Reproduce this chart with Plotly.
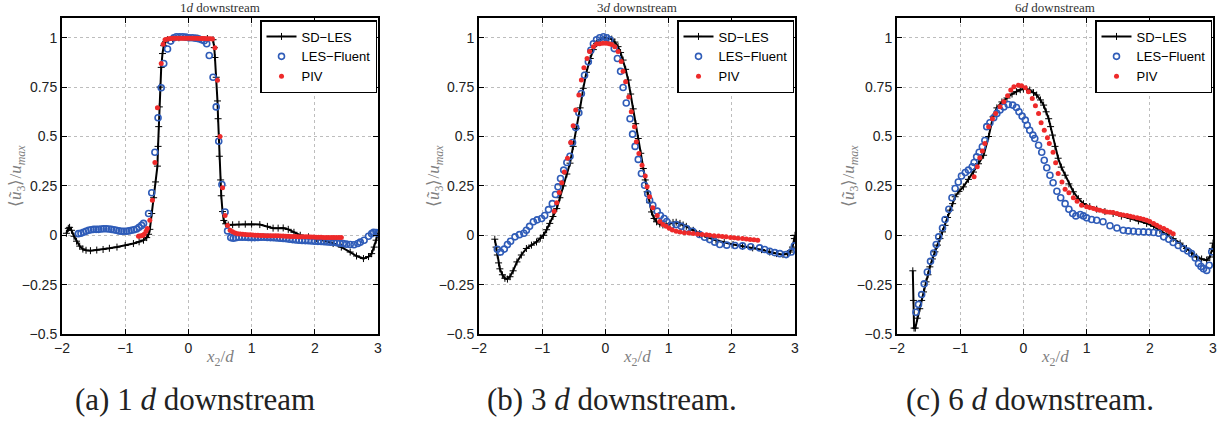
import plotly.graph_objects as go

W, H = 1232, 422

# ---------------- data ----------------
titles = ["1<i>d</i> downstream", "3<i>d</i> downstream", "6<i>d</i> downstream"]
captions = ["(a) 1 <i>d</i> downstream", "(b) 3 <i>d</i> downstream.", "(c) 6 <i>d</i> downstream."]
series_names = ["SD−LES", "LES−Fluent", "PIV"]
x_ticks = [-2, -1, 0, 1, 2, 3]
y_ticks = [-0.5, -0.25, 0, 0.25, 0.5, 0.75, 1]
y_tick_labels = ["−0.5", "−0.25", "0", "0.25", "0.5", "0.75", "1"]

# Panel (a) 1d downstream
sd1_x = [-1.93, -1.90, -1.88, -1.85, -1.81, -1.77, -1.72, -1.67, -1.62, -1.55, -1.45, -1.35, -1.25,
         -1.13, -1.00, -0.87, -0.78, -0.71, -0.66, -0.63, -0.61, -0.58, -0.55, -0.52, -0.49, -0.48,
         -0.47, -0.46, -0.45, -0.43, -0.41, -0.39, -0.36, -0.33, -0.25, -0.15, 0.0, 0.15, 0.30, 0.39,
         0.41, 0.42, 0.44, 0.46, 0.47, 0.48, 0.49, 0.51, 0.52, 0.54, 0.56, 0.59, 0.63, 0.70, 0.80,
         0.90, 1.00, 1.13, 1.25, 1.34, 1.42, 1.50, 1.58, 1.67, 1.77, 1.90, 2.03, 2.16, 2.29, 2.42,
         2.56, 2.66, 2.77, 2.85, 2.90, 2.94, 2.97, 3.00]
sd1_y = [0.01, 0.035, 0.04, 0.025, -0.005, -0.03, -0.055, -0.07, -0.076, -0.078, -0.075, -0.072, -0.066,
         -0.06, -0.052, -0.042, -0.033, -0.025, -0.012, 0.005, 0.03, 0.11, 0.19, 0.27, 0.35, 0.45,
         0.55, 0.65, 0.75, 0.85, 0.92, 0.96, 0.98, 0.99, 0.995, 1.0, 1.0, 0.998, 0.996, 0.99,
         0.95, 0.90, 0.80, 0.68, 0.59, 0.50, 0.40, 0.28, 0.20, 0.12, 0.075, 0.058, 0.052, 0.053, 0.055,
         0.056, 0.056, 0.054, 0.045, 0.036, 0.036, 0.037, 0.03, 0.015, 0.0, -0.008, -0.017, -0.028, -0.042, -0.06,
         -0.085, -0.105, -0.118, -0.108, -0.093, -0.06, -0.025, 0.01]
les1_x = [-1.74, -1.70, -1.66, -1.62, -1.58, -1.54, -1.50, -1.46, -1.42, -1.38, -1.34, -1.30, -1.26,
          -1.22, -1.18, -1.14, -1.10, -1.06, -1.02, -0.98, -0.94, -0.90, -0.86, -0.82, -0.78, -0.74,
          -0.71, -0.63, -0.58, -0.53, -0.48, -0.43, -0.39, -0.33, -0.28, -0.23, -0.19, -0.14, -0.09,
          -0.04, 0.01, 0.06, 0.11, 0.16, 0.21, 0.25, 0.29, 0.33, 0.39, 0.44, 0.48, 0.53, 0.58, 0.62,
          0.67, 0.71, 0.75, 0.80, 0.85, 0.90, 0.95, 1.00, 1.05, 1.10, 1.15, 1.20, 1.25, 1.30, 1.35,
          1.40, 1.45, 1.50, 1.55, 1.60, 1.65, 1.70, 1.75, 1.80, 1.85, 1.90, 1.95, 2.00, 2.05, 2.10,
          2.15, 2.20, 2.25, 2.30, 2.35, 2.40, 2.45, 2.50, 2.56, 2.62, 2.68, 2.72, 2.78, 2.85, 2.90,
          2.93, 2.97, 3.00]
les1_y = [0.008, 0.01, 0.015, 0.02, 0.025, 0.028, 0.03, 0.03, 0.03, 0.032, 0.033, 0.033, 0.032,
          0.03, 0.028, 0.025, 0.022, 0.02, 0.02, 0.02, 0.022, 0.025, 0.028, 0.032, 0.04, 0.05,
          0.06, 0.11, 0.215, 0.42, 0.595, 0.747, 0.87, 0.943, 0.983, 1.0, 1.005, 1.005, 1.005,
          1.003, 1.0, 1.0, 0.998, 0.995, 0.99, 0.985, 0.97, 0.91, 0.80, 0.65, 0.476, 0.257, 0.118, 0.022,
          -0.012, -0.015, -0.013, -0.01, -0.01, -0.01, -0.011, -0.012, -0.012, -0.011, -0.01, -0.01, -0.011, -0.012, -0.013,
          -0.014, -0.015, -0.016, -0.018, -0.02, -0.022, -0.024, -0.025, -0.026, -0.027, -0.028, -0.029, -0.03, -0.031, -0.032,
          -0.033, -0.034, -0.035, -0.036, -0.038, -0.04, -0.042, -0.045, -0.047, -0.048, -0.042, -0.035, -0.025, -0.005, 0.008,
          0.015, 0.014, 0.01]
piv1_x = [-0.79, -0.77, -0.74, -0.72, -0.70, -0.67, -0.65, -0.61, -0.57, -0.53, -0.49, -0.43, -0.40,
          -0.37, -0.34, -0.31, -0.28, -0.25, -0.22, -0.19, -0.16, -0.13, -0.10, -0.07, -0.04, -0.01,
          0.02, 0.05, 0.08, 0.11, 0.14, 0.17, 0.20, 0.23, 0.26, 0.29, 0.32, 0.35, 0.38, 0.42, 0.46,
          0.50, 0.54, 0.58, 0.62, 0.66, 0.70, 0.74, 0.78, 0.82, 0.86, 0.90, 0.94, 0.98, 1.02, 1.06,
          1.10, 1.14, 1.18, 1.22, 1.26, 1.30, 1.34, 1.38, 1.42, 1.46, 1.50, 1.54, 1.58, 1.62, 1.66,
          1.70, 1.74, 1.78, 1.82, 1.86, 1.90, 1.94, 1.98, 2.02, 2.06, 2.10, 2.14, 2.18, 2.22, 2.26,
          2.30, 2.34, 2.38, 2.42]
piv1_y = [-0.005, -0.004, -0.003, 0.0, 0.005, 0.02, 0.034, 0.076, 0.177, 0.368, 0.646, 0.87, 0.967,
          0.99, 0.993, 0.995, 0.996, 0.997, 0.998, 0.998, 0.998, 0.998, 0.998, 0.998, 0.998, 0.998,
          0.997, 0.997, 0.997, 0.997, 0.997, 0.996, 0.996, 0.996, 0.996, 0.995, 0.995, 0.995, 0.994, 0.95, 0.785,
          0.50, 0.24, 0.10, 0.05, 0.025, 0.018, 0.012, 0.008, 0.006, 0.005, 0.004, 0.003, 0.002, 0.001, 0.0,
          0.0, -0.001, -0.001, -0.002, -0.002, -0.002, -0.003, -0.003, -0.003, -0.004, -0.004, -0.005, -0.005, -0.006, -0.006,
          -0.006, -0.007, -0.007, -0.008, -0.008, -0.008, -0.009, -0.009, -0.01, -0.01, -0.01, -0.011, -0.011, -0.011, -0.012,
          -0.012, -0.012, -0.012, -0.012]

# Panel (b) 3d downstream
sd2_x = [-1.75, -1.73, -1.71, -1.69, -1.67, -1.63, -1.59, -1.55, -1.51, -1.46, -1.40, -1.33, -1.25,
         -1.17, -1.09, -1.03, -0.98, -0.93, -0.88, -0.83, -0.77, -0.72, -0.67, -0.61, -0.56, -0.51,
         -0.46, -0.40, -0.35, -0.30, -0.24, -0.19, -0.14, -0.08, -0.01, 0.05, 0.10, 0.15, 0.20, 0.24,
         0.28, 0.32, 0.36, 0.40, 0.44, 0.48, 0.52, 0.56, 0.60, 0.63, 0.66, 0.70, 0.73, 0.77, 0.81,
         0.86, 0.91, 0.96, 1.02, 1.07, 1.12, 1.18, 1.23, 1.28, 1.39, 1.49, 1.62, 1.75, 1.88, 2.02,
         2.17, 2.33, 2.47, 2.60, 2.71, 2.81, 2.88, 2.92, 2.96, 2.99, 3.00]
sd2_y = [-0.02, -0.06, -0.10, -0.14, -0.17, -0.20, -0.218, -0.222, -0.21, -0.18, -0.135, -0.10, -0.067,
         -0.05, -0.034, -0.015, 0.0, 0.028, 0.06, 0.095, 0.135, 0.19, 0.25, 0.31, 0.365, 0.45,
         0.54, 0.645, 0.744, 0.825, 0.895, 0.94, 0.97, 0.99, 1.0, 0.998, 0.993, 0.978, 0.955, 0.925,
         0.887, 0.84, 0.786, 0.715, 0.64, 0.565, 0.49, 0.415, 0.338, 0.28, 0.22, 0.165, 0.118, 0.085, 0.068,
         0.057, 0.052, 0.055, 0.06, 0.065, 0.066, 0.06, 0.052, 0.045, 0.025, 0.008, -0.01, -0.025, -0.037, -0.047,
         -0.056, -0.064, -0.073, -0.085, -0.093, -0.098, -0.093, -0.085, -0.06, -0.017, 0.0]
les2_x = [-1.71, -1.66, -1.60, -1.55, -1.50, -1.43, -1.36, -1.29, -1.25, -1.20, -1.14, -1.08, -1.01,
          -0.96, -0.90, -0.84, -0.79, -0.75, -0.71, -0.66, -0.61, -0.56, -0.52, -0.47, -0.42, -0.38,
          -0.33, -0.27, -0.23, -0.19, -0.14, -0.09, -0.03, 0.02, 0.07, 0.14, 0.19, 0.24, 0.28, 0.33,
          0.39, 0.43, 0.47, 0.52, 0.57, 0.62, 0.67, 0.70, 0.75, 0.82, 0.87, 0.93, 0.97, 1.04, 1.12,
          1.20, 1.28, 1.38, 1.49, 1.57, 1.65, 1.73, 1.81, 1.92, 2.05, 2.17, 2.30, 2.44, 2.52, 2.60,
          2.68, 2.76, 2.86, 2.94, 2.99]
les2_y = [-0.071, -0.085, -0.07, -0.047, -0.03, -0.008, 0.003, 0.01, 0.025, 0.045, 0.068, 0.078, 0.085,
          0.10, 0.13, 0.16, 0.206, 0.245, 0.287, 0.33, 0.368, 0.40, 0.47, 0.545, 0.62, 0.718,
          0.81, 0.878, 0.937, 0.97, 0.99, 1.0, 1.005, 1.0, 0.99, 0.945, 0.895, 0.83, 0.748, 0.67,
          0.59, 0.512, 0.45, 0.384, 0.313, 0.253, 0.21, 0.177, 0.152, 0.122, 0.10, 0.085, 0.07, 0.05, 0.054,
          0.045, 0.034, 0.02, 0.004, -0.01, -0.022, -0.035, -0.047, -0.05, -0.052, -0.054, -0.058, -0.064, -0.072, -0.081,
          -0.088, -0.093, -0.098, -0.085, -0.054]
piv2_x = [-0.81, -0.77, -0.73, -0.69, -0.65, -0.60, -0.55, -0.51, -0.47, -0.42, -0.38, -0.34, -0.29,
          -0.25, -0.19, -0.14, -0.09, -0.04, 0.01, 0.06, 0.10, 0.15, 0.20, 0.25, 0.28, 0.32, 0.37,
          0.41, 0.46, 0.49, 0.53, 0.58, 0.63, 0.66, 0.70, 0.75, 0.82, 0.86, 0.91, 0.96, 1.01, 1.06,
          1.12, 1.18, 1.25, 1.32, 1.39, 1.46, 1.53, 1.60, 1.65, 1.72, 1.79, 1.85, 1.91, 1.98, 2.04,
          2.10, 2.17, 2.23, 2.29, 2.35, 2.41]
piv2_y = [0.122, 0.164, 0.216, 0.266, 0.32, 0.39, 0.47, 0.554, 0.634, 0.71, 0.786, 0.848, 0.895,
          0.93, 0.955, 0.968, 0.97, 0.972, 0.972, 0.97, 0.966, 0.955, 0.93, 0.88, 0.83, 0.777, 0.70,
          0.625, 0.55, 0.473, 0.414, 0.355, 0.30, 0.245, 0.195, 0.139, 0.10, 0.07, 0.055, 0.045, 0.035, 0.027,
          0.02, 0.016, 0.013, 0.011, 0.009, 0.006, 0.004, 0.002, 0.0, -0.002, -0.004, -0.006, -0.008, -0.011, -0.013,
          -0.015, -0.017, -0.019, -0.021, -0.023, -0.025]

# Panel (c) 6d downstream
sd3_x = [-1.75, -1.74, -1.73, -1.71, -1.68, -1.64, -1.61, -1.58, -1.54, -1.51, -1.48, -1.44, -1.40,
         -1.36, -1.32, -1.28, -1.24, -1.20, -1.16, -1.12, -1.08, -1.02, -0.95, -0.87, -0.79, -0.71,
         -0.63, -0.55, -0.48, -0.42, -0.34, -0.26, -0.18, -0.11, -0.05, 0.0, 0.05, 0.10, 0.16, 0.21,
         0.27, 0.32, 0.36, 0.40, 0.43, 0.46, 0.50, 0.55, 0.60, 0.66, 0.72, 0.79, 0.87, 0.95, 1.05,
         1.16, 1.29, 1.42, 1.55, 1.69, 1.82, 1.95, 2.06, 2.16, 2.27, 2.37, 2.48, 2.58, 2.66, 2.74,
         2.82, 2.90, 2.95, 2.99, 3.00]
sd3_y = [-0.18, -0.33, -0.47, -0.47, -0.42, -0.372, -0.33, -0.287, -0.236, -0.20, -0.16, -0.12, -0.084,
         -0.05, -0.017, 0.017, 0.05, 0.09, 0.127, 0.16, 0.195, 0.222, 0.245, 0.283, 0.32, 0.362,
         0.405, 0.50, 0.60, 0.645, 0.675, 0.695, 0.715, 0.727, 0.737, 0.74, 0.74, 0.735, 0.722, 0.71,
         0.685, 0.659, 0.625, 0.59, 0.55, 0.507, 0.45, 0.39, 0.345, 0.304, 0.26, 0.22, 0.185, 0.16, 0.145,
         0.132, 0.12, 0.11, 0.097, 0.085, 0.073, 0.06, 0.045, 0.025, 0.005, -0.017, -0.04, -0.067, -0.09, -0.11,
         -0.12, -0.127, -0.11, -0.067, -0.04]
les3_x = [-1.70, -1.66, -1.61, -1.57, -1.52, -1.47, -1.42, -1.38, -1.34, -1.28, -1.24, -1.18, -1.13,
          -1.08, -1.03, -0.98, -0.92, -0.87, -0.81, -0.78, -0.74, -0.70, -0.65, -0.61, -0.58, -0.53,
          -0.47, -0.42, -0.37, -0.31, -0.24, -0.17, -0.11, -0.07, -0.02, 0.03, 0.06, 0.10, 0.15, 0.18,
          0.24, 0.29, 0.33, 0.37, 0.42, 0.47, 0.53, 0.59, 0.66, 0.72, 0.78, 0.83, 0.90, 0.95, 1.00,
          1.08, 1.16, 1.26, 1.37, 1.48, 1.58, 1.66, 1.74, 1.82, 1.90, 1.98, 2.06, 2.14, 2.22, 2.30,
          2.37, 2.45, 2.53, 2.60, 2.66, 2.72, 2.77, 2.81, 2.85, 2.90, 2.94, 2.98]
les3_y = [-0.39, -0.35, -0.30, -0.246, -0.186, -0.132, -0.09, -0.047, -0.008, 0.037, 0.08, 0.132, 0.19,
          0.237, 0.27, 0.30, 0.318, 0.33, 0.347, 0.368, 0.397, 0.42, 0.448, 0.48, 0.55, 0.57,
          0.595, 0.617, 0.634, 0.65, 0.662, 0.659, 0.647, 0.625, 0.603, 0.583, 0.557, 0.532, 0.507, 0.49,
          0.456, 0.42, 0.38, 0.342, 0.304, 0.266, 0.223, 0.19, 0.16, 0.132, 0.11, 0.098, 0.105, 0.098, 0.088,
          0.08, 0.076, 0.068, 0.048, 0.037, 0.025, 0.022, 0.02, 0.018, 0.017, 0.016, 0.014, 0.01, -0.008, -0.02,
          -0.037, -0.052, -0.067, -0.08, -0.093, -0.115, -0.143, -0.158, -0.169, -0.178, -0.152, -0.084]
piv3_x = [-0.78, -0.73, -0.69, -0.65, -0.61, -0.55, -0.49, -0.44, -0.37, -0.31, -0.25, -0.20, -0.15,
          -0.08, -0.03, 0.03, 0.08, 0.14, 0.19, 0.24, 0.28, 0.33, 0.38, 0.41, 0.47, 0.51, 0.55,
          0.61, 0.66, 0.72, 0.79, 0.85, 0.92, 1.00, 1.05, 1.11, 1.16, 1.21, 1.27, 1.32, 1.37, 1.42,
          1.48, 1.53, 1.58, 1.64, 1.69, 1.74, 1.80, 1.85, 1.90, 1.95, 2.00, 2.06, 2.11, 2.16, 2.22,
          2.27, 2.32, 2.37]
piv3_y = [0.296, 0.347, 0.392, 0.426, 0.465, 0.55, 0.59, 0.617, 0.651, 0.676, 0.706, 0.735, 0.752,
          0.76, 0.757, 0.747, 0.727, 0.693, 0.656, 0.617, 0.57, 0.532, 0.494, 0.465, 0.42, 0.367, 0.313,
          0.27, 0.233, 0.215, 0.19, 0.172, 0.152, 0.144, 0.14, 0.135, 0.131, 0.127, 0.122, 0.118, 0.117, 0.115,
          0.11, 0.105, 0.103, 0.10, 0.096, 0.093, 0.089, 0.085, 0.081, 0.076, 0.07, 0.06, 0.051, 0.042, 0.034,
          0.025, 0.017, 0.008]

panels = [
    (sd1_x, sd1_y, les1_x, les1_y, piv1_x, piv1_y),
    (sd2_x, sd2_y, les2_x, les2_y, piv2_x, piv2_y),
    (sd3_x, sd3_y, les3_x, les3_y, piv3_x, piv3_y),
]

# ---------------- layout geometry (pixels) ----------------
plot_left = [62, 479, 897]
plot_w = 316
plot_top, plot_bot = 18, 334
ylab_x = [17, 435, 850]
cap_x = [195, 612, 1030]

BLACK = "#000000"
BLUE = "#2f5cb8"
RED = "#ee2a2a"
SANS = "Liberation Sans, Arial, sans-serif"
SERIF = "Liberation Serif, Times New Roman, serif"

fig = go.Figure()
layout = dict(
    width=W, height=H,
    margin=dict(l=0, r=0, t=0, b=0, autoexpand=False),
    paper_bgcolor="white", plot_bgcolor="white",
    font=dict(family=SANS, size=14, color="#222"),
    annotations=[],
)

for i, (sx, sy, lx, ly, px, py) in enumerate(panels):
    n = "" if i == 0 else str(i + 1)
    xa, ya = "x" + n, "y" + n
    leg = "legend" + n
    fig.add_trace(go.Scatter(x=sx, y=sy, mode="lines+markers", name=series_names[0],
                             xaxis=xa, yaxis=ya, legend=leg,
                             line=dict(color=BLACK, width=2),
                             marker=dict(symbol="cross-thin", size=5, color=BLACK,
                                         line=dict(color=BLACK, width=1))))
    fig.add_trace(go.Scatter(x=lx, y=ly, mode="markers", name=series_names[1],
                             xaxis=xa, yaxis=ya, legend=leg,
                             marker=dict(symbol="circle-open", size=6, color=BLUE,
                                         line=dict(color=BLUE, width=1.6))))
    fig.add_trace(go.Scatter(x=px, y=py, mode="markers", name=series_names[2],
                             xaxis=xa, yaxis=ya, legend=leg,
                             marker=dict(symbol="circle", size=5, color=RED)))

    x0 = plot_left[i] / W
    x1 = (plot_left[i] + plot_w) / W
    axis_common = dict(showline=True, linecolor=BLACK, linewidth=2, mirror="ticks",
                       ticks="inside", ticklen=5, tickwidth=1, tickcolor=BLACK,
                       showgrid=True, gridcolor="#bdbdbd", griddash="dot", gridwidth=1,
                       zeroline=False, tickfont=dict(family=SANS, size=14, color="#222"))
    layout["xaxis" + n] = dict(axis_common, domain=[x0, x1], range=[-2, 3],
                               tickvals=x_ticks, ticktext=[str(t).replace("-", "−") for t in x_ticks],
                               anchor=ya)
    layout["yaxis" + n] = dict(axis_common, domain=[1 - plot_bot / H, 1 - plot_top / H],
                               range=[-0.5, 1.1], tickvals=y_ticks, ticktext=y_tick_labels,
                               anchor=xa)
    layout[leg] = dict(x=(plot_left[i] + plot_w - 1) / W, y=1 - 20 / H,
                       xanchor="right", yanchor="top", xref="paper", yref="paper",
                       bgcolor="white", bordercolor=BLACK, borderwidth=1.5,
                       font=dict(family=SANS, size=13, color=BLACK),
                       itemwidth=30, tracegroupgap=0)
    cx = (plot_left[i] + plot_w / 2) / W
    layout["annotations"] += [
        dict(text=titles[i], x=cx, y=1 - 7 / H, xref="paper", yref="paper",
             showarrow=False, xanchor="center", yanchor="middle",
             font=dict(family=SERIF, size=13, color="#333")),
        dict(text="<i>x</i><sub>2</sub>/<i>d</i>", x=cx, y=1 - 358 / H, xref="paper", yref="paper",
             showarrow=False, xanchor="center", yanchor="middle",
             font=dict(family=SERIF, size=17, color="#808080")),
        dict(text="⟨<i>ũ</i><sub>3</sub>⟩/<i>u</i><sub><i>max</i></sub>", x=ylab_x[i] / W,
             y=1 - ((plot_top + plot_bot) / 2) / H, xref="paper", yref="paper",
             showarrow=False, xanchor="center", yanchor="middle", textangle=-90,
             font=dict(family=SERIF, size=17, color="#808080")),
        dict(text=captions[i], x=cap_x[i] / W, y=1 - 399 / H, xref="paper", yref="paper",
             showarrow=False, xanchor="center", yanchor="middle",
             font=dict(family=SERIF, size=31, color="#222")),
    ]

fig.update_layout(**layout)
fig.write_html("out.html", config={"displayModeBar": False},
               post_script="document.body.style.margin='0px';")
